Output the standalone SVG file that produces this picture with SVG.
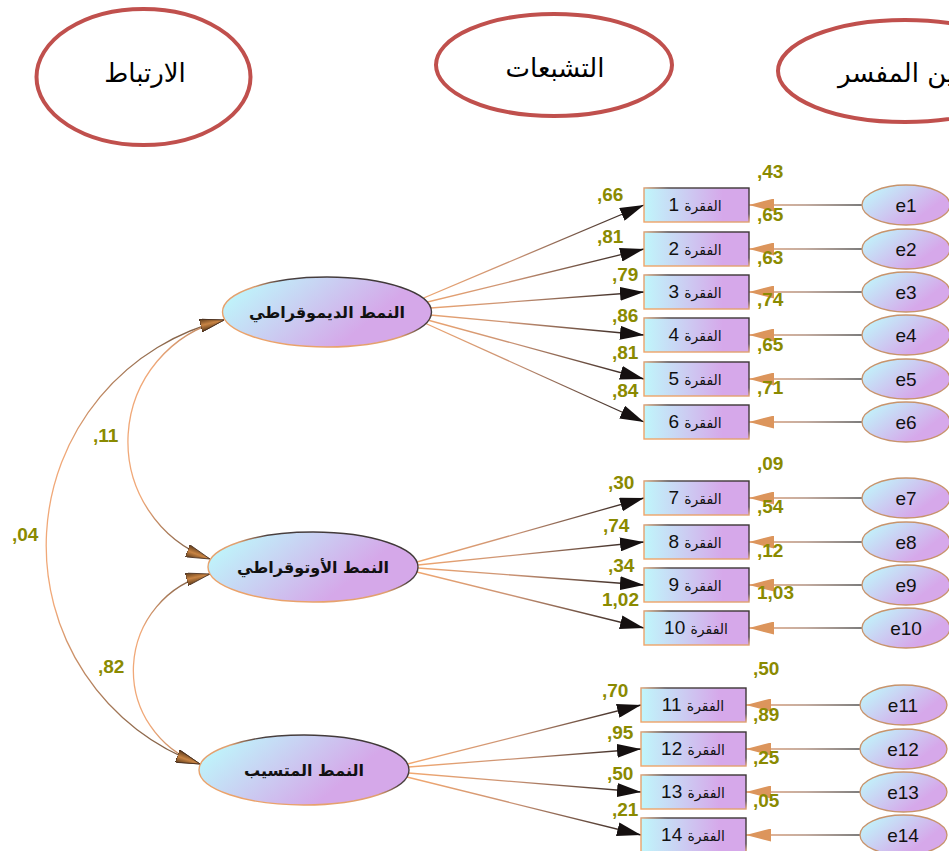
<svg xmlns="http://www.w3.org/2000/svg" width="949" height="851" viewBox="0 0 949 851">
  <style>
    .title ellipse { fill: #ffffff; stroke: #c0504d; stroke-width: 4; }
    .title text { font-family: "DejaVu Sans", "Noto Sans", sans-serif; font-size: 26px; fill: #000; }
    .lat ellipse { fill: url(#latFill); stroke: url(#edge); stroke-width: 1.4; }
    .lat text { font-family: "DejaVu Sans", "Noto Sans", sans-serif; font-weight: bold; font-size: 16px; fill: #111; }
    .item rect { fill: url(#boxFill); stroke: url(#edge); stroke-width: 1.4; }
    .item text { font-family: "Liberation Sans", "DejaVu Sans", sans-serif; fill: #111; }
    .err ellipse { fill: url(#errFill); stroke: #c8946c; stroke-width: 1.3; }
    .err text { font-family: "Liberation Sans", Arial, sans-serif; font-size: 19px; fill: #111; }
    .load { fill: none; stroke: url(#loadStroke); stroke-width: 1.3; marker-end: url(#ahBlack); }
    .resid { fill: none; stroke: url(#residStroke); stroke-width: 1.4; marker-end: url(#ahOrange); }
    .cov { fill: none; stroke-width: 1.3; marker-start: url(#ahCov); marker-end: url(#ahCov); }
    .lbl { font-family: "Liberation Sans", Arial, sans-serif; font-weight: bold; font-size: 19px; fill: #8a8a00; }
  </style>
  <defs>
    <linearGradient id="latFill" x1="0" y1="0.3" x2="1" y2="0.7">
      <stop offset="0" stop-color="#bef6fb"/>
      <stop offset="0.72" stop-color="#d5a8e9"/>
      <stop offset="1" stop-color="#d5a8e9"/>
    </linearGradient>
    <linearGradient id="boxFill" x1="0" y1="0" x2="1" y2="0">
      <stop offset="0" stop-color="#c0f6fb"/>
      <stop offset="0.75" stop-color="#d6a8ea"/>
      <stop offset="1" stop-color="#d6a8ea"/>
    </linearGradient>
    <linearGradient id="errFill" x1="0" y1="0.2" x2="1" y2="0.8">
      <stop offset="0" stop-color="#c0f6fb"/>
      <stop offset="0.75" stop-color="#d6a8ea"/>
      <stop offset="1" stop-color="#d6a8ea"/>
    </linearGradient>
    <linearGradient id="edge" x1="0" y1="1" x2="1" y2="0">
      <stop offset="0" stop-color="#f0a468"/>
      <stop offset="0.5" stop-color="#e0a070"/>
      <stop offset="0.62" stop-color="#4a4040"/>
      <stop offset="1" stop-color="#3a3434"/>
    </linearGradient>
    <linearGradient id="loadStroke" gradientUnits="userSpaceOnUse" x1="410" y1="0" x2="645" y2="0">
      <stop offset="0" stop-color="#f2a870"/>
      <stop offset="0.45" stop-color="#c99274"/>
      <stop offset="1" stop-color="#1e1818"/>
    </linearGradient>
    <linearGradient id="residStroke" gradientUnits="userSpaceOnUse" x1="750" y1="0" x2="862" y2="0">
      <stop offset="0" stop-color="#e8a070"/>
      <stop offset="0.5" stop-color="#b09080"/>
      <stop offset="1" stop-color="#505050"/>
    </linearGradient>
    <linearGradient id="covOuter" gradientUnits="userSpaceOnUse" x1="0" y1="320" x2="0" y2="762">
      <stop offset="0" stop-color="#7a5c44"/>
      <stop offset="0.3" stop-color="#f0a878"/>
      <stop offset="0.65" stop-color="#f0a878"/>
      <stop offset="1" stop-color="#7a5c44"/>
    </linearGradient>
    <linearGradient id="cov11" gradientUnits="userSpaceOnUse" x1="0" y1="320" x2="0" y2="558">
      <stop offset="0" stop-color="#c08a64"/>
      <stop offset="0.2" stop-color="#f0a878"/>
      <stop offset="0.75" stop-color="#f0a878"/>
      <stop offset="1" stop-color="#7a5c44"/>
    </linearGradient>
    <linearGradient id="cov82" gradientUnits="userSpaceOnUse" x1="0" y1="573" x2="0" y2="762">
      <stop offset="0" stop-color="#7a5c44"/>
      <stop offset="0.3" stop-color="#f0a878"/>
      <stop offset="0.8" stop-color="#f0a878"/>
      <stop offset="1" stop-color="#c08a64"/>
    </linearGradient>
    <linearGradient id="coneFill" x1="0" y1="0" x2="0" y2="1">
      <stop offset="0" stop-color="#5a3818"/>
      <stop offset="0.5" stop-color="#c88444"/>
      <stop offset="1" stop-color="#5a3818"/>
    </linearGradient>
    <marker id="ahBlack" viewBox="0 0 24 14" refX="24" refY="7" markerWidth="24" markerHeight="14" markerUnits="userSpaceOnUse" orient="auto">
      <path d="M0,0 L24,7 L0,14 z" fill="#151010"/>
    </marker>
    <marker id="ahOrange" viewBox="0 0 25 13" refX="25" refY="6.5" markerWidth="25" markerHeight="13" markerUnits="userSpaceOnUse" orient="auto">
      <path d="M0,0 L25,6.5 L0,13 z" fill="#dc955c"/>
    </marker>
    <marker id="ahCov" viewBox="0 0 24 13" refX="24" refY="6.5" markerWidth="24" markerHeight="13" markerUnits="userSpaceOnUse" orient="auto-start-reverse">
      <path d="M0,0 L24,6.5 L0,13 z" fill="url(#coneFill)" stroke="#4a3020" stroke-width="0.8"/>
    </marker>
  </defs>

  <!-- column headers -->
  <g id="hdr-correlation" class="title">
    <ellipse cx="143.5" cy="77" rx="107" ry="68"/>
    <text x="145" y="82" text-anchor="middle" direction="rtl">الارتباط</text>
  </g>
  <g id="hdr-loadings" class="title">
    <ellipse cx="554" cy="65" rx="118" ry="51"/>
    <text x="555" y="77" text-anchor="middle" direction="rtl">التشبعات</text>
  </g>
  <g id="hdr-variance" class="title">
    <ellipse cx="905" cy="71" rx="127" ry="51"/>
    <text x="838" y="82" text-anchor="end" direction="rtl">التباين المفسر</text>
  </g>

  <!-- connectors -->
  <g id="connectors">
    <!-- covariances between the latent factors -->
    <path class="cov" stroke="url(#covOuter)" d="M224,320 A232,232 0 0 0 200,764"/>
    <path class="cov" stroke="url(#cov11)" d="M224,320 A125,125 0 0 0 210,559"/>
    <path class="cov" stroke="url(#cov82)" d="M210,574 A99,99 0 0 0 200,764"/>

    <!-- factor loadings -->
    <line class="load" x1="423.6" y1="298" x2="644" y2="205"/>
    <line class="load" x1="427.5" y1="302" x2="644" y2="249"/>
    <line class="load" x1="430.6" y1="308" x2="644" y2="292"/>
    <line class="load" x1="430.3" y1="315" x2="644" y2="335"/>
    <line class="load" x1="427.5" y1="320" x2="644" y2="379"/>
    <line class="load" x1="424.7" y1="323" x2="644" y2="422"/>

    <line class="load" x1="416.9" y1="562" x2="644" y2="498"/>
    <line class="load" x1="417.8" y1="565" x2="644" y2="542"/>
    <line class="load" x1="418" y1="568" x2="644" y2="585"/>
    <line class="load" x1="416.8" y1="572" x2="644" y2="628"/>

    <line class="load" x1="407.5" y1="764" x2="641" y2="705"/>
    <line class="load" x1="408.6" y1="767" x2="641" y2="749"/>
    <line class="load" x1="408.6" y1="773" x2="641" y2="792"/>
    <line class="load" x1="406.9" y1="777" x2="641" y2="835"/>

    <!-- residual paths -->
    <line class="resid" x1="862" y1="205" x2="749" y2="205"/>
    <line class="resid" x1="862" y1="249" x2="749" y2="249"/>
    <line class="resid" x1="862" y1="292" x2="749" y2="292"/>
    <line class="resid" x1="862" y1="335" x2="749" y2="335"/>
    <line class="resid" x1="862" y1="379" x2="749" y2="379"/>
    <line class="resid" x1="862" y1="422" x2="749" y2="422"/>
    <line class="resid" x1="862" y1="498" x2="749" y2="498"/>
    <line class="resid" x1="862" y1="542" x2="749" y2="542"/>
    <line class="resid" x1="862" y1="585" x2="749" y2="585"/>
    <line class="resid" x1="862" y1="628" x2="749" y2="628"/>
    <line class="resid" x1="860" y1="705" x2="746" y2="705"/>
    <line class="resid" x1="860" y1="749" x2="746" y2="749"/>
    <line class="resid" x1="860" y1="792" x2="746" y2="792"/>
    <line class="resid" x1="860" y1="835" x2="746" y2="835"/>
  </g>

  <!-- latent factors -->
  <g id="f-democratic" class="lat">
    <ellipse cx="327" cy="312" rx="104.5" ry="35"/>
    <text x="327" y="318" text-anchor="middle" direction="rtl">النمط الديموقراطي</text>
  </g>
  <g id="f-autocratic" class="lat">
    <ellipse cx="313" cy="567" rx="105" ry="35"/>
    <text x="313" y="573" text-anchor="middle" direction="rtl">النمط الأوتوقراطي</text>
  </g>
  <g id="f-laissez" class="lat">
    <ellipse cx="304" cy="770" rx="105" ry="35"/>
    <text x="304" y="776" text-anchor="middle" direction="rtl">النمط المتسيب</text>
  </g>

  <!-- observed items -->
  <g id="item1" class="item"><rect x="644" y="188" width="105" height="34"/><text x="695" y="211" text-anchor="middle" direction="rtl"><tspan font-size="14">الفقرة</tspan><tspan font-size="19"> 1</tspan></text></g>
  <g id="item2" class="item"><rect x="644" y="232" width="105" height="34"/><text x="695" y="255" text-anchor="middle" direction="rtl"><tspan font-size="14">الفقرة</tspan><tspan font-size="19"> 2</tspan></text></g>
  <g id="item3" class="item"><rect x="644" y="275" width="105" height="34"/><text x="695" y="298" text-anchor="middle" direction="rtl"><tspan font-size="14">الفقرة</tspan><tspan font-size="19"> 3</tspan></text></g>
  <g id="item4" class="item"><rect x="644" y="318" width="105" height="34"/><text x="695" y="341" text-anchor="middle" direction="rtl"><tspan font-size="14">الفقرة</tspan><tspan font-size="19"> 4</tspan></text></g>
  <g id="item5" class="item"><rect x="644" y="362" width="105" height="34"/><text x="695" y="385" text-anchor="middle" direction="rtl"><tspan font-size="14">الفقرة</tspan><tspan font-size="19"> 5</tspan></text></g>
  <g id="item6" class="item"><rect x="644" y="405" width="105" height="34"/><text x="695" y="428" text-anchor="middle" direction="rtl"><tspan font-size="14">الفقرة</tspan><tspan font-size="19"> 6</tspan></text></g>
  <g id="item7" class="item"><rect x="644" y="481" width="105" height="34"/><text x="695" y="504" text-anchor="middle" direction="rtl"><tspan font-size="14">الفقرة</tspan><tspan font-size="19"> 7</tspan></text></g>
  <g id="item8" class="item"><rect x="644" y="525" width="105" height="34"/><text x="695" y="548" text-anchor="middle" direction="rtl"><tspan font-size="14">الفقرة</tspan><tspan font-size="19"> 8</tspan></text></g>
  <g id="item9" class="item"><rect x="644" y="568" width="105" height="34"/><text x="695" y="591" text-anchor="middle" direction="rtl"><tspan font-size="14">الفقرة</tspan><tspan font-size="19"> 9</tspan></text></g>
  <g id="item10" class="item"><rect x="644" y="611" width="105" height="34"/><text x="696" y="634" text-anchor="middle" direction="rtl"><tspan font-size="14">الفقرة</tspan><tspan font-size="19"> 10</tspan></text></g>
  <g id="item11" class="item"><rect x="641" y="688" width="105" height="34"/><text x="693" y="711" text-anchor="middle" direction="rtl"><tspan font-size="14">الفقرة</tspan><tspan font-size="19"> 11</tspan></text></g>
  <g id="item12" class="item"><rect x="641" y="732" width="105" height="34"/><text x="693" y="755" text-anchor="middle" direction="rtl"><tspan font-size="14">الفقرة</tspan><tspan font-size="19"> 12</tspan></text></g>
  <g id="item13" class="item"><rect x="641" y="775" width="105" height="34"/><text x="693" y="798" text-anchor="middle" direction="rtl"><tspan font-size="14">الفقرة</tspan><tspan font-size="19"> 13</tspan></text></g>
  <g id="item14" class="item"><rect x="641" y="818" width="105" height="34"/><text x="693" y="841" text-anchor="middle" direction="rtl"><tspan font-size="14">الفقرة</tspan><tspan font-size="19"> 14</tspan></text></g>

  <!-- error terms -->
  <g id="e1" class="err"><ellipse cx="906" cy="205" rx="44" ry="20"/><text x="906" y="212" text-anchor="middle">e1</text></g>
  <g id="e2" class="err"><ellipse cx="906" cy="249" rx="44" ry="20"/><text x="906" y="256" text-anchor="middle">e2</text></g>
  <g id="e3" class="err"><ellipse cx="906" cy="292" rx="44" ry="20"/><text x="906" y="299" text-anchor="middle">e3</text></g>
  <g id="e4" class="err"><ellipse cx="906" cy="335" rx="44" ry="20"/><text x="906" y="342" text-anchor="middle">e4</text></g>
  <g id="e5" class="err"><ellipse cx="906" cy="379" rx="44" ry="20"/><text x="906" y="386" text-anchor="middle">e5</text></g>
  <g id="e6" class="err"><ellipse cx="906" cy="422" rx="44" ry="20"/><text x="906" y="429" text-anchor="middle">e6</text></g>
  <g id="e7" class="err"><ellipse cx="906" cy="498" rx="44" ry="20"/><text x="906" y="505" text-anchor="middle">e7</text></g>
  <g id="e8" class="err"><ellipse cx="906" cy="542" rx="44" ry="20"/><text x="906" y="549" text-anchor="middle">e8</text></g>
  <g id="e9" class="err"><ellipse cx="906" cy="585" rx="44" ry="20"/><text x="906" y="592" text-anchor="middle">e9</text></g>
  <g id="e10" class="err"><ellipse cx="906" cy="628" rx="44" ry="20"/><text x="906" y="635" text-anchor="middle">e10</text></g>
  <g id="e11" class="err"><ellipse cx="903.5" cy="705" rx="43.5" ry="20"/><text x="903" y="712" text-anchor="middle">e11</text></g>
  <g id="e12" class="err"><ellipse cx="903.5" cy="749" rx="43.5" ry="20"/><text x="903" y="756" text-anchor="middle">e12</text></g>
  <g id="e13" class="err"><ellipse cx="903.5" cy="792" rx="43.5" ry="20"/><text x="903" y="799" text-anchor="middle">e13</text></g>
  <g id="e14" class="err"><ellipse cx="903.5" cy="835" rx="43.5" ry="20"/><text x="903" y="842" text-anchor="middle">e14</text></g>

  <!-- estimates -->
  <g id="estimates" class="lbl">
    <text x="93" y="442">,11</text>
    <text x="12" y="541">,04</text>
    <text x="98" y="673">,82</text>

    <text x="597" y="201">,66</text>
    <text x="597" y="243">,81</text>
    <text x="612" y="281">,79</text>
    <text x="612" y="322">,86</text>
    <text x="612" y="359">,81</text>
    <text x="612" y="397">,84</text>
    <text x="608" y="489">,30</text>
    <text x="603" y="532">,74</text>
    <text x="608" y="572">,34</text>
    <text x="602" y="606">1,02</text>
    <text x="602" y="697">,70</text>
    <text x="607" y="739">,95</text>
    <text x="607" y="780">,50</text>
    <text x="612" y="816">,21</text>

    <text x="757" y="178">,43</text>
    <text x="757" y="221">,65</text>
    <text x="757" y="264">,63</text>
    <text x="757" y="306">,74</text>
    <text x="757" y="351">,65</text>
    <text x="757" y="394">,71</text>
    <text x="757" y="470">,09</text>
    <text x="757" y="513">,54</text>
    <text x="757" y="557">,12</text>
    <text x="757" y="599">1,03</text>
    <text x="753" y="675">,50</text>
    <text x="753" y="721">,89</text>
    <text x="753" y="764">,25</text>
    <text x="753" y="807">,05</text>
  </g>
</svg>
